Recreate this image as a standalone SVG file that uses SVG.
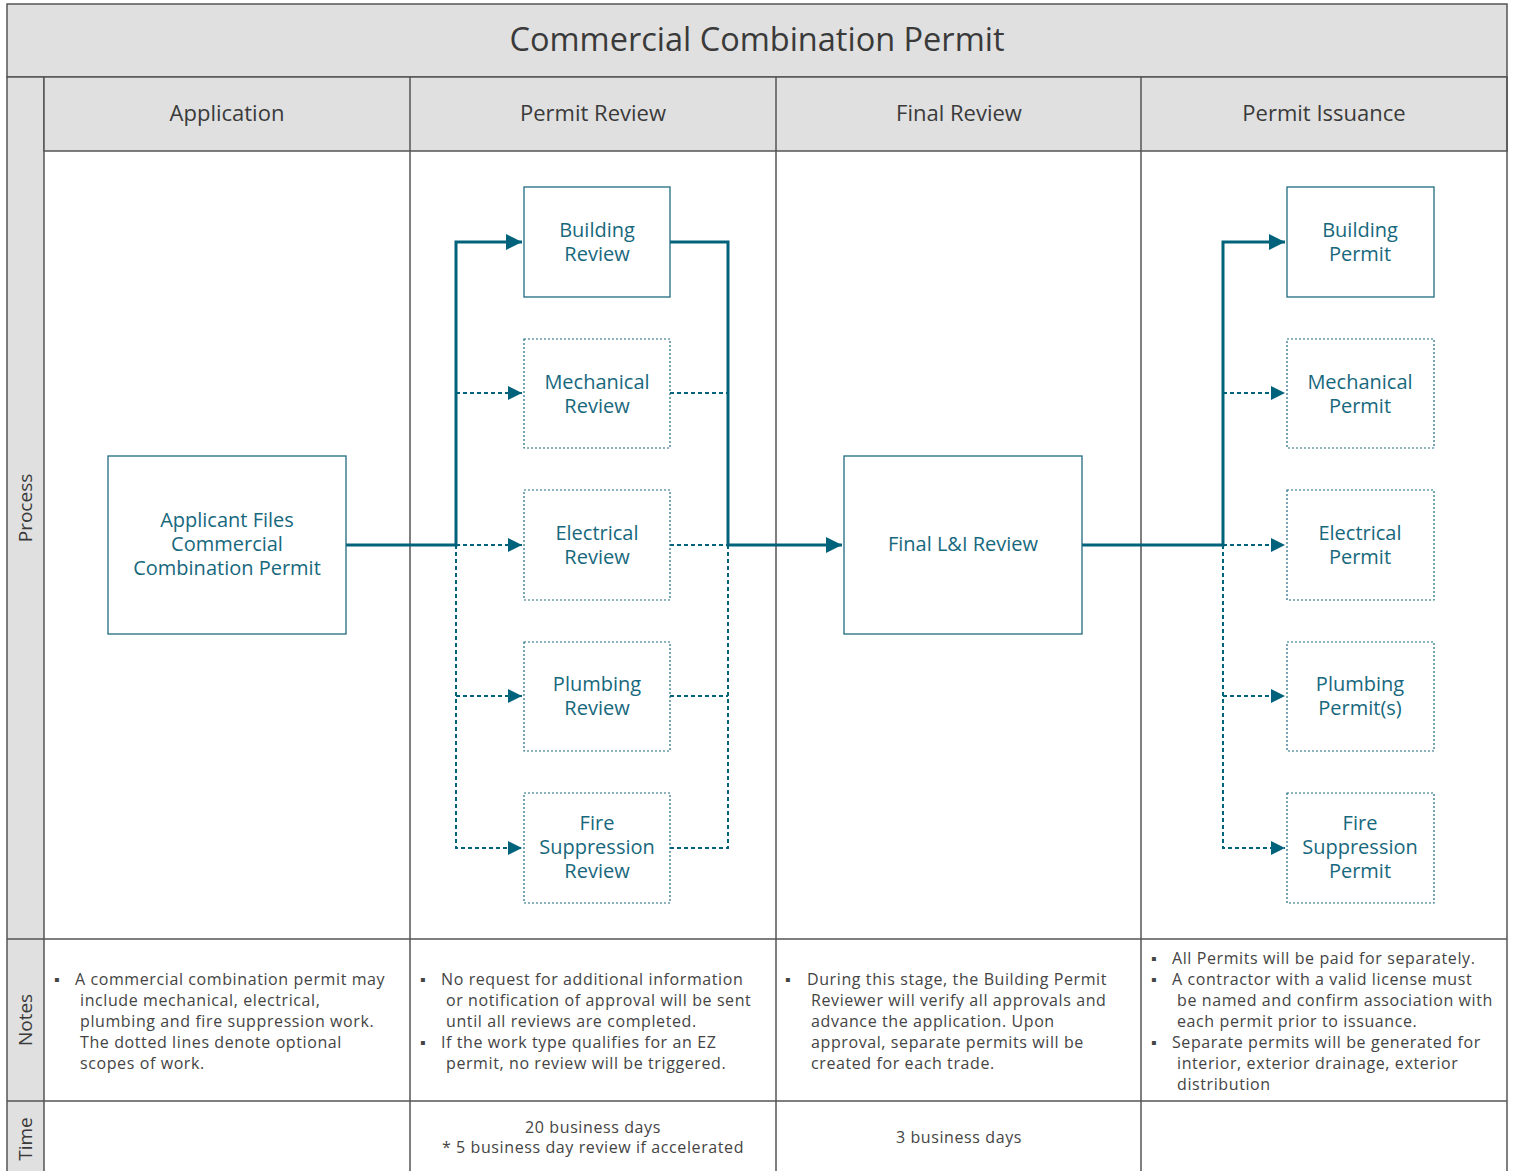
<svg xmlns="http://www.w3.org/2000/svg" width="1514" height="1171" viewBox="0 0 1514 1171">
<style>
.frame{fill:none;stroke:#555;stroke-width:1.5}
.band{fill:#e0e0e0;stroke:#555;stroke-width:1.5}
.title{font-family:"Open Sans","Noto Sans",sans-serif;font-size:32.5px;fill:#3a3a3a;text-anchor:middle}
.hdr{font-family:"Open Sans","Noto Sans",sans-serif;font-size:22px;fill:#3a3a3a;text-anchor:middle}
.side{font-family:"Open Sans","Noto Sans",sans-serif;font-size:19px;fill:#3a3a3a;text-anchor:middle}
.note{font-family:"Open Sans","Noto Sans",sans-serif;font-size:16px;fill:#444;letter-spacing:0.6px}
.time{font-family:"Open Sans","Noto Sans",sans-serif;font-size:16px;fill:#444;text-anchor:middle;letter-spacing:0.6px}
.box{fill:#fff;stroke:#1f6a80;stroke-width:1.3}
.dbox{fill:#fff;stroke:#1f6a80;stroke-width:1.2;stroke-dasharray:2 2}
.lbl{font-family:"Open Sans","Noto Sans",sans-serif;font-size:20px;fill:#17687d;text-anchor:middle}
.solid{fill:none;stroke:#00637b;stroke-width:3}
.dot{fill:none;stroke:#00637b;stroke-width:2;stroke-dasharray:4 3}
</style>
<defs>
<marker id="arrS" viewBox="0 0 10 10" refX="10" refY="5" markerWidth="16" markerHeight="16" orient="auto" markerUnits="userSpaceOnUse">
<path d="M0,0 L10,5 L0,10 Z" fill="#00637b"/>
</marker>
<marker id="arrD" viewBox="0 0 10 10" refX="10" refY="5" markerWidth="14" markerHeight="14" orient="auto" markerUnits="userSpaceOnUse">
<path d="M0,0 L10,5 L0,10 Z" fill="#00637b"/>
</marker>
</defs>
<rect x="0" y="0" width="1514" height="1171" fill="#fff"/>
<g id="pool">
<rect class="band" x="7" y="4" width="1500" height="73"/>
<text class="title" x="757" y="51">Commercial Combination Permit</text>
<rect class="band" x="7" y="77" width="37" height="1100"/>
<rect class="band" x="44" y="77" width="1463" height="74"/>
<line class="frame" x1="1507" y1="77" x2="1507" y2="1171"/>
<line class="frame" x1="410" y1="77" x2="410" y2="1171"/>
<line class="frame" x1="776" y1="77" x2="776" y2="1171"/>
<line class="frame" x1="1141" y1="77" x2="1141" y2="1171"/>
<line class="frame" x1="7" y1="939" x2="1507" y2="939"/>
<line class="frame" x1="7" y1="1101" x2="1507" y2="1101"/>
<text class="hdr" x="227" y="121">Application</text>
<text class="hdr" x="593" y="121">Permit Review</text>
<text class="hdr" x="959" y="121">Final Review</text>
<text class="hdr" x="1324" y="121">Permit Issuance</text>
<text class="side" transform="translate(32,508) rotate(-90)">Process</text>
<text class="side" transform="translate(32,1020) rotate(-90)">Notes</text>
<text class="side" transform="translate(32,1139) rotate(-90)">Time</text>
</g>
<g id="notes">
<text class="note"><tspan x="54" y="985">▪</tspan><tspan x="75" y="985">A commercial combination permit may</tspan><tspan x="80" y="1006">include mechanical, electrical,</tspan><tspan x="80" y="1027">plumbing and fire suppression work.</tspan><tspan x="80" y="1048">The dotted lines denote optional</tspan><tspan x="80" y="1069">scopes of work.</tspan></text>
<text class="note"><tspan x="420" y="985">▪</tspan><tspan x="441" y="985">No request for additional information</tspan><tspan x="446" y="1006">or notification of approval will be sent</tspan><tspan x="446" y="1027">until all reviews are completed.</tspan><tspan x="420" y="1048">▪</tspan><tspan x="441" y="1048">If the work type qualifies for an EZ</tspan><tspan x="446" y="1069">permit, no review will be triggered.</tspan></text>
<text class="note"><tspan x="785" y="985">▪</tspan><tspan x="807" y="985">During this stage, the Building Permit</tspan><tspan x="811" y="1006">Reviewer will verify all approvals and</tspan><tspan x="811" y="1027">advance the application. Upon</tspan><tspan x="811" y="1048">approval, separate permits will be</tspan><tspan x="811" y="1069">created for each trade.</tspan></text>
<text class="note"><tspan x="1151" y="964">▪</tspan><tspan x="1172" y="964">All Permits will be paid for separately.</tspan><tspan x="1151" y="985">▪</tspan><tspan x="1172" y="985">A contractor with a valid license must</tspan><tspan x="1177" y="1006">be named and confirm association with</tspan><tspan x="1177" y="1027">each permit prior to issuance.</tspan><tspan x="1151" y="1048">▪</tspan><tspan x="1172" y="1048">Separate permits will be generated for</tspan><tspan x="1177" y="1069">interior, exterior drainage, exterior</tspan><tspan x="1177" y="1090">distribution</tspan></text>
<text class="time" x="593" y="1133">20 business days</text>
<text class="time" x="593" y="1153">* 5 business day review if accelerated</text>
<text class="time" x="959" y="1143">3 business days</text>
</g>
<g id="connectors">
<polyline class="dot" points="456,545 456,848 522,848" marker-end="url(#arrD)"/>
<line class="dot" x1="456" y1="393" x2="522" y2="393" marker-end="url(#arrD)"/>
<line class="dot" x1="456" y1="545" x2="522" y2="545" marker-end="url(#arrD)"/>
<line class="dot" x1="456" y1="696" x2="522" y2="696" marker-end="url(#arrD)"/>
<line class="dot" x1="670" y1="393" x2="728" y2="393"/>
<line class="dot" x1="670" y1="545" x2="728" y2="545"/>
<line class="dot" x1="670" y1="696" x2="728" y2="696"/>
<polyline class="dot" points="670,848 728,848 728,545"/>
<polyline class="solid" points="346,545 456,545 456,242 522,242" marker-end="url(#arrS)"/>
<polyline class="solid" points="670,242 728,242 728,545 842,545" marker-end="url(#arrS)"/>
<polyline class="dot" points="1223,545 1223,848 1285,848" marker-end="url(#arrD)"/>
<line class="dot" x1="1223" y1="393" x2="1285" y2="393" marker-end="url(#arrD)"/>
<line class="dot" x1="1223" y1="545" x2="1285" y2="545" marker-end="url(#arrD)"/>
<line class="dot" x1="1223" y1="696" x2="1285" y2="696" marker-end="url(#arrD)"/>
<polyline class="solid" points="1082,545 1223,545 1223,242 1285,242" marker-end="url(#arrS)"/>
</g>
<g id="n-applicant"><rect class="box" x="108" y="456" width="238" height="178"/><text class="lbl"><tspan x="227" y="527">Applicant Files</tspan><tspan x="227" y="551">Commercial</tspan><tspan x="227" y="575">Combination Permit</tspan></text></g>
<g id="n-building-review"><rect class="box" x="524" y="187" width="146" height="110"/><text class="lbl"><tspan x="597" y="237">Building</tspan><tspan x="597" y="261">Review</tspan></text></g>
<g id="n-mechanical-review"><rect class="dbox" x="524" y="339" width="146" height="109"/><text class="lbl"><tspan x="597" y="389">Mechanical</tspan><tspan x="597" y="413">Review</tspan></text></g>
<g id="n-electrical-review"><rect class="dbox" x="524" y="490" width="146" height="110"/><text class="lbl"><tspan x="597" y="540">Electrical</tspan><tspan x="597" y="564">Review</tspan></text></g>
<g id="n-plumbing-review"><rect class="dbox" x="524" y="642" width="146" height="109"/><text class="lbl"><tspan x="597" y="691">Plumbing</tspan><tspan x="597" y="715">Review</tspan></text></g>
<g id="n-fire-review"><rect class="dbox" x="524" y="793" width="146" height="110"/><text class="lbl"><tspan x="597" y="830">Fire</tspan><tspan x="597" y="854">Suppression</tspan><tspan x="597" y="878">Review</tspan></text></g>
<g id="n-final"><rect class="box" x="844" y="456" width="238" height="178"/><text class="lbl" x="963" y="551">Final L&amp;I Review</text></g>
<g id="n-building-permit"><rect class="box" x="1287" y="187" width="147" height="110"/><text class="lbl"><tspan x="1360" y="237">Building</tspan><tspan x="1360" y="261">Permit</tspan></text></g>
<g id="n-mechanical-permit"><rect class="dbox" x="1287" y="339" width="147" height="109"/><text class="lbl"><tspan x="1360" y="389">Mechanical</tspan><tspan x="1360" y="413">Permit</tspan></text></g>
<g id="n-electrical-permit"><rect class="dbox" x="1287" y="490" width="147" height="110"/><text class="lbl"><tspan x="1360" y="540">Electrical</tspan><tspan x="1360" y="564">Permit</tspan></text></g>
<g id="n-plumbing-permit"><rect class="dbox" x="1287" y="642" width="147" height="109"/><text class="lbl"><tspan x="1360" y="691">Plumbing</tspan><tspan x="1360" y="715">Permit(s)</tspan></text></g>
<g id="n-fire-permit"><rect class="dbox" x="1287" y="793" width="147" height="110"/><text class="lbl"><tspan x="1360" y="830">Fire</tspan><tspan x="1360" y="854">Suppression</tspan><tspan x="1360" y="878">Permit</tspan></text></g>
</svg>
